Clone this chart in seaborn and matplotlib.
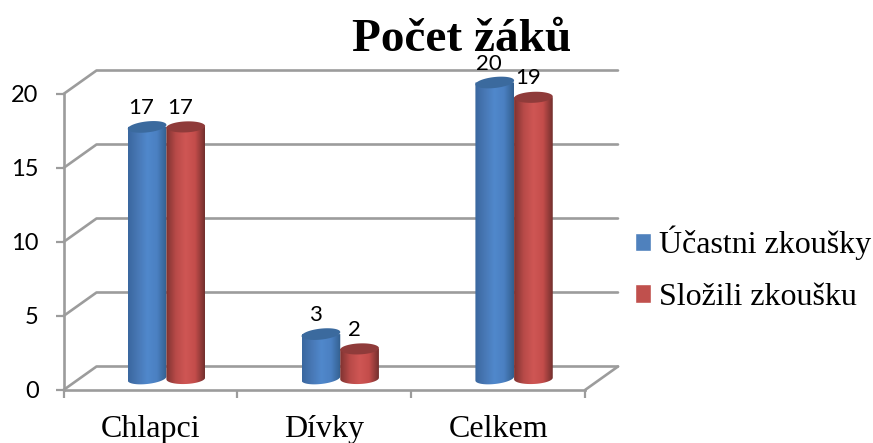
import numpy as np
import pandas as pd
import seaborn as sns
import matplotlib.pyplot as plt
from matplotlib.patches import Patch, Polygon

groups = ['Chlapci', 'Dívky', 'Celkem']
series = ['Účastni zkoušky', 'Složili zkoušku']
ucastni = [17, 3, 20]
slozili = [17, 2, 19]
y_ticks = [0, 5, 10, 15, 20]

W, H = 873, 443
colors = ['#4f81bd', '#c0504d']
cap_colors = ['#3b6a9e', '#8f3b3a']
ramps = [['#3a679f', '#4878b5', '#5088cc', '#4b80c2', '#33608f'],
         ['#7f3331', '#b84a48', '#cf5654', '#c44d4b', '#74302e']]
tilts = [2.0, 0.8]
grey = '#9c9c9c'
serif = 'Liberation Serif'
sans = 'Lato'

sns.set_theme(style='white')
fig = plt.figure(figsize=(W / 100, H / 100), dpi=100)


def px_axes(left, right, bottom, top):
    return fig.add_axes([left / W, 1 - bottom / H, (right - left) / W, (bottom - top) / H])


# front plane, axes and the "3d" walls
ax = px_axes(63.5, 585, 390, 94)
ax.patch.set_alpha(0)
ax.set_xlim(-0.5, 2.5)
ax.set_ylim(0, 20)
sns.despine(ax=ax)
for s in ['left', 'bottom']:
    ax.spines[s].set_color(grey)
    ax.spines[s].set_linewidth(1.9)
ax.set_yticks(y_ticks)
ax.set_xticks([-0.5, 0.5, 1.5, 2.5])
ax.set_xticklabels([])
ax.set_xticks([0, 1, 2], minor=True)
ax.set_xticklabels(groups, minor=True, fontsize=23, family=serif, color='black')
ax.tick_params(axis='x', which='minor', length=0, pad=18)
ax.tick_params(axis='x', which='major', length=6, width=1.6, color=grey, bottom=True)
ax.tick_params(axis='y', length=6, width=1.6, color=grey, left=True, pad=12)
for t in ax.get_yticklabels():
    t.set_fontsize(17)
    t.set_family(sans)
    t.set_color('black')

dx = 33 / (521.5 / 3)
dy = 23.5 / 14.8
for v in y_ticks:
    ax.plot([-0.5, -0.5 + dx, 2.5 + dx], [v, v + dy, v + dy], color=grey, lw=1.9, clip_on=False, zorder=1)
ax.plot([2.5, 2.5 + dx], [0, dy], color=grey, lw=1.9, clip_on=False, zorder=1)

# bars sit halfway into the depth
ppu = 14.8
ax_b = px_axes(79.5, 601, 378.5 + 2 * ppu, 82.5 - 2 * ppu)
ax_b.patch.set_alpha(0)
df = pd.DataFrame({'group': groups * 2,
                   'serie': [series[0]] * 3 + [series[1]] * 3,
                   'value': ucastni + slozili})
sns.barplot(data=df, x='group', y='value', hue='serie', palette=colors, width=0.445, gap=0,
            dodge=True, legend=False, ax=ax_b)
ax_b.set_xlim(-0.5, 2.5)
ax_b.set_ylim(-2, 22)

t = np.linspace(0, 2 * np.pi, 80)
for i, cont in enumerate(ax_b.containers):
    cmap_pos = np.linspace(0, 1, 5)
    rgb = np.array([plt.matplotlib.colors.to_rgb(c) for c in ramps[i]])
    xs = np.linspace(0, 1, 64)
    grad = np.stack([np.interp(xs, cmap_pos, rgb[:, k]) for k in range(3)], axis=-1)[None, :, :]
    for bar in cont:
        bar.set_alpha(0)
        x0, w, h = bar.get_x(), bar.get_width(), bar.get_height()
        cx = x0 + w / 2
        ry = 5.5 / ppu
        tilt = tilts[i] / ppu
        # lower half of the base ellipse, then straight up the sides
        tb = np.linspace(np.pi, 2 * np.pi, 40)
        low = np.c_[cx + w / 2 * np.cos(tb), ry * np.sin(tb) + tilt * np.cos(tb)]
        outline = np.vstack([low, [[x0 + w, h], [x0, h]]])
        clip = Polygon(outline, transform=ax_b.transData)
        im = ax_b.imshow(grad, extent=(x0, x0 + w, -1, h), aspect='auto', zorder=3 + i)
        im.set_clip_path(clip)
        cap = np.c_[cx + w / 2 * np.cos(t), h + ry * np.sin(t) + tilt * np.cos(t)]
        ax_b.add_patch(Polygon(cap, closed=True, fc=cap_colors[i], ec='none', zorder=3 + i))
        ax_b.annotate(f'{h:.0f}', (cx, h), xytext=(-5.5, 13), textcoords='offset pixels',
                      ha='center', va='baseline', fontsize=16, family=sans, color='black',
                      annotation_clip=False, zorder=8)
ax_b.set_xlim(-0.5, 2.5)
ax_b.set_ylim(-2, 22)
ax_b.axis('off')

fig.text(461.5 / W, 1 - 51 / H, 'Počet žáků', ha='center', va='baseline', fontsize=34,
         fontweight='bold', family=serif, color='black')

handles = [Patch(facecolor=c, label=s) for c, s in zip(colors, series)]
leg = fig.legend(handles=handles, loc='upper left', bbox_to_anchor=(635 / W, 1 - 226 / H),
                 frameon=False, prop={'family': serif, 'size': 23},
                 handlelength=0.5, handleheight=0.5, handletextpad=0.25,
                 labelspacing=0.7, borderpad=0, borderaxespad=0)
for txt in leg.get_texts():
    txt.set_color('black')

fig.savefig('out.png', dpi=100)
